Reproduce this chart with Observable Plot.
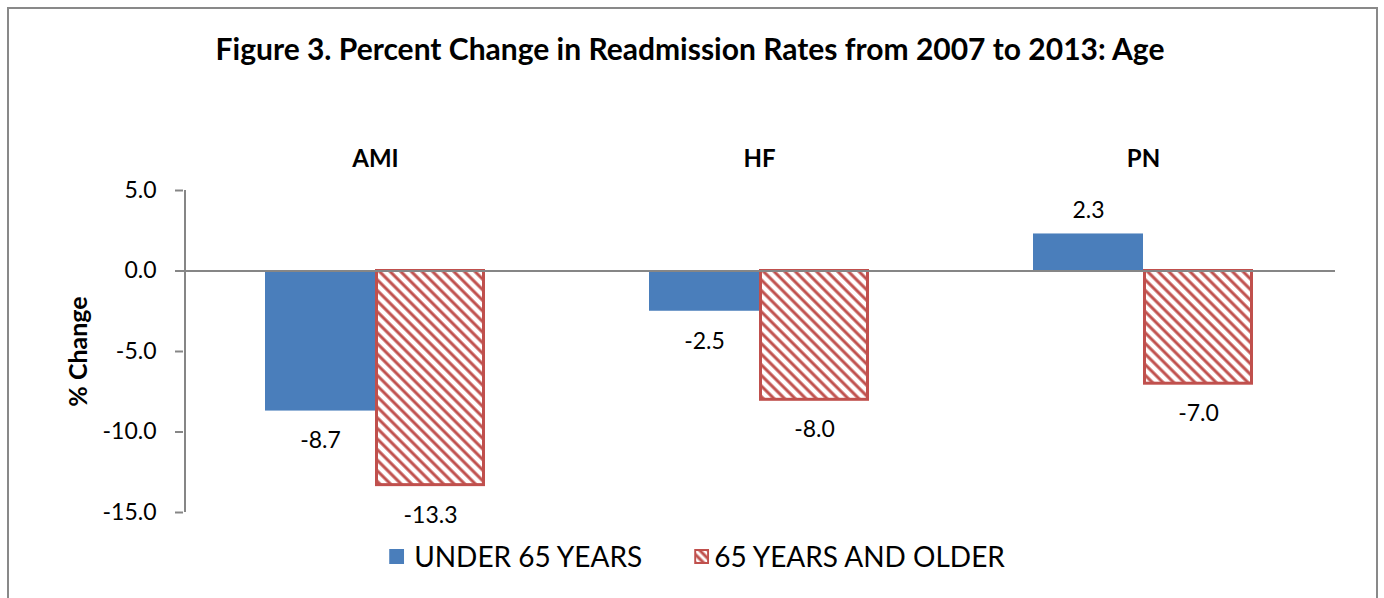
<!DOCTYPE html>
<html>
<head>
<meta charset="utf-8">
<script src="https://cdn.jsdelivr.net/npm/d3@7"></script>
<script src="https://cdn.jsdelivr.net/npm/@observablehq/plot@0.6"></script>
<style>
  body { margin: 0; background: #fff; font-family: Lato, "Open Sans", sans-serif; }
  #wrap { position: relative; width: 1384px; height: 598px; overflow: hidden; background: #fff; }
  #border { position: absolute; left: 7px; top: 7px; width: 1371px; height: 640px; border: 2px solid #898989; box-sizing: border-box; }
  #title { position: absolute; left: 0; width: 1380px; top: 30px; text-align: center; font-weight: bold; font-size: 30px; line-height: 36px; color: #000; white-space: nowrap; }
  #chart { position: absolute; left: 0; top: 120px; }
  #legend { position: absolute; top: 538px; left: 697px; transform: translateX(-50%); display: flex; align-items: center; white-space: nowrap; font-size: 28px; line-height: 36px; color: #000; }
  .item { display: flex; align-items: center; }
  .sw { width: 15px; height: 15px; margin-right: 10px; display: block; }
</style>
</head>
<body>
<svg width="0" height="0" style="position:absolute">
  <defs>
    <pattern id="hatch" patternUnits="userSpaceOnUse" width="7.5" height="7.5" patternTransform="rotate(-45)">
      <rect width="7.5" height="7.5" fill="#ffffff"></rect>
      <line x1="3.75" y1="-1" x2="3.75" y2="8.5" stroke="#c0504d" stroke-width="3"></line>
    </pattern>
    <pattern id="hatchSmall" patternUnits="userSpaceOnUse" width="6" height="6" patternTransform="rotate(-45)">
      <rect width="6" height="6" fill="#ffffff"></rect>
      <line x1="3" y1="-1" x2="3" y2="7" stroke="#c0504d" stroke-width="3"></line>
    </pattern>
  </defs>
</svg>
<div id="wrap">
  <div id="border"></div>
  <div id="title"></div>
  <div id="chart"></div>
  <div id="legend"></div>
</div>
<script>
// ---- data ----
const categories = ["AMI", "HF", "PN"];
const seriesNames = ["UNDER 65 YEARS", "65 YEARS AND OLDER"];
const under65 = [-8.7, -2.5, 2.3];
const olderThan65 = [-13.3, -8.0, -7.0];
const yTicks = [5, 0, -5, -10, -15];
const yDomain = [-15, 5];
const titleText = "Figure 3. Percent Change in Readmission Rates from 2007 to 2013: Age";
const yLabelText = "% Change";

// ---- styles ----
const blue = "#4a7ebb";
const red = "#c0504d";
const axisGray = "#868686";

const rows = categories.flatMap((c, i) => [
  {category: c, series: seriesNames[0], value: under65[i]},
  {category: c, series: seriesNames[1], value: olderThan65[i]}
]);

document.getElementById("title").textContent = titleText;

const fmt = d => d.toFixed(1);

const chart = Plot.plot({
  width: 1384,
  height: 420,
  marginLeft: 183,
  marginRight: 49,
  marginTop: 70,
  marginBottom: 28,
  style: {fontFamily: "Lato, 'Open Sans', sans-serif", color: "#000", background: "transparent", overflow: "visible"},
  fx: {domain: categories, padding: 0, label: null, axis: null},
  x: {domain: seriesNames, paddingInner: 0, paddingOuter: 0.73, axis: null},
  y: {domain: yDomain, axis: null, label: null},
  marks: [
    Plot.axisFx({anchor: "top", tickSize: 0, tickPadding: 24, fontSize: 24, fontWeight: "bold", label: null}),
    Plot.axisY({ticks: yTicks, tickSize: 8, tickPadding: 19, tickFormat: fmt, fontSize: 23, stroke: axisGray, strokeWidth: 2, fill: "#000", label: null}),
    Plot.axisY({ticks: [], tickSize: 0, label: yLabelText, labelAnchor: "center", labelArrow: "none", labelOffset: 114, fontSize: 25, fontWeight: "bold", fill: "#000"}),
    Plot.barY(rows.filter(d => d.series === seriesNames[0]), {fx: "category", x: "series", y: "value", fill: blue}),
    Plot.barY(rows.filter(d => d.series === seriesNames[1]), {fx: "category", x: "series", y: "value", fill: "url(#hatch)", stroke: red, strokeWidth: 3, insetLeft: 1.5, insetRight: 1.5}),
    Plot.ruleY([0], {stroke: axisGray, strokeWidth: 2}),
    Plot.ruleX([categories[0]], {fx: d => d, x: () => seriesNames[0], y1: yDomain[0], y2: yDomain[1], dx: -135.5, stroke: axisGray, strokeWidth: 2}),
    Plot.text(rows.filter(d => d.value < 0), {fx: "category", x: "series", y: "value", text: d => fmt(d.value), dy: 30, fontSize: 23, fill: "#000"}),
    Plot.text(rows.filter(d => d.value >= 0), {fx: "category", x: "series", y: "value", text: d => fmt(d.value), dy: -23, fontSize: 23, fill: "#000"})
  ]
});
document.getElementById("chart").appendChild(chart);

// ---- legend ----
const legend = document.getElementById("legend");
legend.innerHTML = `
  <div class="item"><svg class="sw" viewBox="0 0 15 15"><rect width="15" height="15" fill="${blue}"></rect></svg><span>${seriesNames[0]}</span></div>
  <div class="item" style="margin-left:52px"><svg class="sw" viewBox="0 0 15 15" style="margin-right:5px"><rect x="1" y="1" width="13" height="13" fill="url(#hatchSmall)" stroke="${red}" stroke-width="2"></rect></svg><span>${seriesNames[1]}</span></div>
`;
</script>
</body>
</html>
